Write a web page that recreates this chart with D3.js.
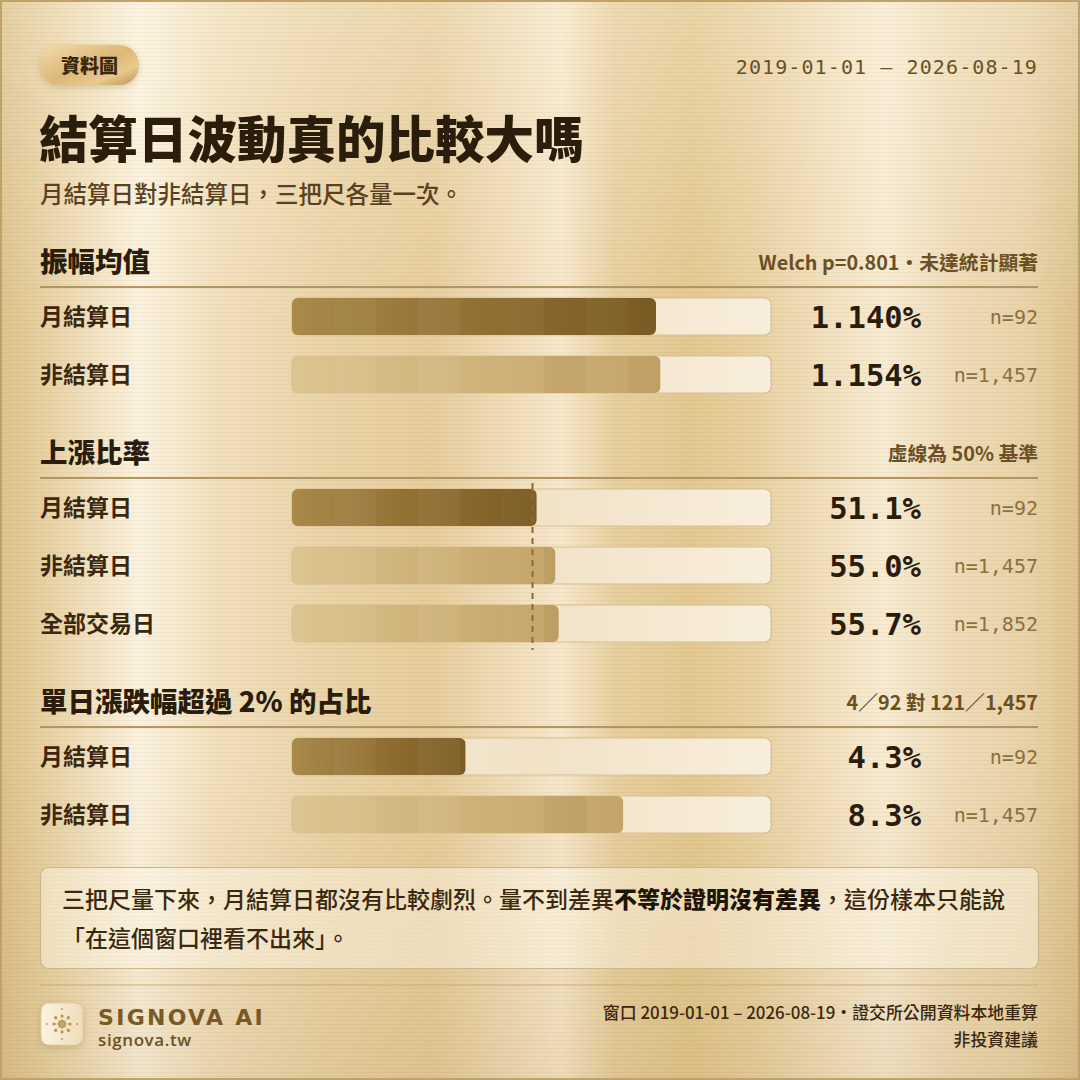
<!DOCTYPE html>
<html><head><meta charset="utf-8">
<script src="https://cdn.jsdelivr.net/npm/d3@7"></script>
<style>
html,body{margin:0;padding:0;background:#e8d3a6;}
svg{display:block;}
</style></head>
<body>
<svg id="c" width="1080" height="1080"></svg>
<script>
// ---- data ----
const sectionTitles = ["振幅均值", "上漲比率", "單日漲跌幅超過 2% 的占比"];
const sectionNotes = ["Welch p=0.801・未達統計顯著", "虛線為 50% 基準", "4／92 對 121／1,457"];
const sectionMax = [1.5, 100, 12];
const amplitudeLabels = ["月結算日", "非結算日"];
const amplitudeValues = [1.140, 1.154];
const amplitudeText = ["1.140%", "1.154%"];
const amplitudeN = ["n=92", "n=1,457"];
const upLabels = ["月結算日", "非結算日", "全部交易日"];
const upValues = [51.1, 55.0, 55.7];
const upText = ["51.1%", "55.0%", "55.7%"];
const upN = ["n=92", "n=1,457", "n=1,852"];
const upReference = 50;
const bigMoveLabels = ["月結算日", "非結算日"];
const bigMoveValues = [4.35, 8.30];
const bigMoveText = ["4.3%", "8.3%"];
const bigMoveN = ["n=92", "n=1,457"];

const sections = [
  {labels: amplitudeLabels, values: amplitudeValues, text: amplitudeText, n: amplitudeN},
  {labels: upLabels, values: upValues, text: upText, n: upN, ref: upReference},
  {labels: bigMoveLabels, values: bigMoveValues, text: bigMoveText, n: bigMoveN}
];

// ---- layout ----
const W = 1080, H = 1080, L = 40, R = 1038;
const svg = d3.select("#c");
const defs = svg.append("defs");
const CJK = "'Noto Sans CJK TC','Noto Sans CJK SC',sans-serif";
const MONO = "'DejaVu Sans Mono','Liberation Mono',monospace";

// background gradients
const bg = defs.append("linearGradient").attr("id","bg").attr("x1",0).attr("x2",1).attr("y1",0).attr("y2",0);
[[0,"#dcc18b"],[0.05,"#e9d4a8"],[0.13,"#fbf2df"],[0.2,"#f1e0bd"],[0.3,"#ead4a8"],[0.4,"#e6cd9c"],[0.47,"#efdcb8"],[0.52,"#f6e8cc"],[0.57,"#e7cf9f"],[0.64,"#e2c890"],[0.7,"#e8d1a2"],[0.78,"#f3e3c4"],[0.82,"#f7ebd3"],[0.88,"#eedcb8"],[0.95,"#e8d3a8"],[1,"#dcc28e"]]
  .forEach(([o,c])=>bg.append("stop").attr("offset",o).attr("stop-color",c));
const vg = defs.append("linearGradient").attr("id","vg").attr("x1",0).attr("x2",0).attr("y1",0).attr("y2",1);
[[0,"rgba(255,250,235,0.25)"],[0.3,"rgba(255,250,235,0.0)"],[0.7,"rgba(160,120,50,0.0)"],[1,"rgba(160,120,50,0.12)"]]
  .forEach(([o,c])=>vg.append("stop").attr("offset",o).attr("stop-color",c));
const lines = defs.append("pattern").attr("id","lines").attr("width",8).attr("height",4).attr("patternUnits","userSpaceOnUse");
lines.append("rect").attr("width",8).attr("height",1).attr("fill","rgba(150,115,55,0.07)");

svg.append("rect").attr("width",W).attr("height",H).attr("fill","url(#bg)");
svg.append("rect").attr("width",W).attr("height",H).attr("fill","url(#vg)");
svg.append("rect").attr("width",W).attr("height",H).attr("fill","url(#lines)");
svg.append("rect").attr("x",1).attr("y",1).attr("width",W-2).attr("height",H-2).attr("fill","none").attr("stroke","#bfa26a").attr("stroke-width",2);

// badge
const badgeG = defs.append("linearGradient").attr("id","badge").attr("x1",0).attr("x2",1).attr("y1",0).attr("y2",1);
[[0,"#f3dcaa"],[0.5,"#dcb878"],[0.75,"#e8c98e"],[1,"#b8904f"]].forEach(([o,c])=>badgeG.append("stop").attr("offset",o).attr("stop-color",c));
const shadow = defs.append("filter").attr("id","sh").attr("x",-0.2).attr("y",-0.3).attr("width",1.4).attr("height",1.8);
shadow.append("feDropShadow").attr("dx",0).attr("dy",2).attr("stdDeviation",3).attr("flood-color","#8a6a30").attr("flood-opacity",0.3);
svg.append("rect").attr("x",40).attr("y",45).attr("width",99).attr("height",40).attr("rx",20)
  .attr("fill","url(#badge)").attr("filter","url(#sh)");
svg.append("text").attr("x",89.5).attr("y",72.5).attr("text-anchor","middle")
  .attr("font-family",CJK).attr("font-weight",900).attr("font-size",19).attr("fill","#3a2810").text("資料圖");

svg.append("text").attr("x",R).attr("y",74).attr("text-anchor","end")
  .attr("font-family",MONO).attr("font-size",20).attr("letter-spacing",1.1).attr("fill","#6b5024")
  .text("2019-01-01 – 2026-08-19");

svg.append("text").attr("x",L-1).attr("y",158).attr("font-family",CJK).attr("font-weight",900)
  .attr("font-size",49.5).attr("fill","#2a1d0b").text("結算日波動真的比較大嗎");
svg.append("text").attr("x",L).attr("y",203).attr("font-family",CJK).attr("font-weight",500)
  .attr("font-size",23.5).attr("fill","#5a4220").text("月結算日對非結算日，三把尺各量一次。");

// bar gradients
function grad(id, stops){
  const g = defs.append("linearGradient").attr("id",id).attr("x1",0).attr("x2",1).attr("y1",0).attr("y2",0);
  stops.forEach(([o,c])=>g.append("stop").attr("offset",o).attr("stop-color",c));
}
grad("dark", [[0,"#a98a4b"],[0.5,"#937033"],[1,"#7b5c23"]]);
grad("light", [[0,"#ddc591"],[0.5,"#cfb37a"],[1,"#c3a366"]]);
grad("track", [[0,"#f6ebd6"],[0.5,"#f1e2c6"],[1,"#f8eedc"]]);
const stripeShades = [0.00, 0.05, 0.02, 0.07, 0.0, 0.04, 0.08, 0.03, 0.06, 0.01, 0.05, 0.02];

const x = d3.scaleLinear().range([292, 771]);
const sectionTops = [272, 463, 712];
const barH = 37, rowGap = 58;

sections.forEach((s, si) => {
  const top = sectionTops[si];
  x.domain([0, sectionMax[si]]);
  const g = svg.append("g");
  g.append("text").attr("x",L).attr("y",top).attr("font-family",CJK).attr("font-weight",900)
    .attr("font-size",27.5).attr("fill","#2a1d0b").text(sectionTitles[si]);
  g.append("text").attr("x",R).attr("y",top-2).attr("text-anchor","end").attr("font-family",CJK)
    .attr("font-weight",700).attr("font-size",19.8).attr("fill","#6b5024").text(sectionNotes[si]);
  g.append("line").attr("x1",L).attr("x2",R).attr("y1",top+15).attr("y2",top+15)
    .attr("stroke","#b39463").attr("stroke-width",2);

  const y0 = top + 26;
  const rows = g.selectAll("g.row").data(s.values).join("g").attr("class","row")
    .attr("transform",(d,i)=>`translate(0,${y0 + i*rowGap})`);
  rows.append("text").attr("x",L).attr("y",barH/2+8).attr("font-family",CJK).attr("font-weight",700)
    .attr("font-size",23).attr("fill","#3a2810").text((d,i)=>s.labels[i]);
  rows.append("rect").attr("x",x(0)).attr("y",0).attr("width",x.range()[1]-x(0)).attr("height",barH).attr("rx",6)
    .attr("fill","url(#track)").attr("stroke","#d5bf94").attr("stroke-width",1.2);
  rows.each(function(d,i){
    const r = d3.select(this);
    const w = x(d) - x(0);
    const cid = `clip${si}_${i}`;
    defs.append("clipPath").attr("id",cid).append("rect").attr("x",x(0)).attr("y",0).attr("width",w).attr("height",barH).attr("rx",6);
    const bg2 = r.append("g").attr("clip-path",`url(#${cid})`);
    bg2.append("rect").attr("x",x(0)).attr("y",0).attr("width",w).attr("height",barH)
      .attr("fill", i===0 ? "url(#dark)" : "url(#light)");
    const n = Math.ceil(w/42);
    for(let k=0;k<n;k++){
      bg2.append("rect").attr("x",x(0)+k*42).attr("y",0).attr("width",42).attr("height",barH)
        .attr("fill", k%2 ? "#fff" : "#5a3e10").attr("opacity", stripeShades[k%stripeShades.length]*0.6);
    }
  });
  rows.append("text").attr("x",921).attr("y",barH/2+11).attr("text-anchor","end").attr("font-family",MONO)
    .attr("font-weight",700).attr("font-size",30.5).attr("fill","#2a1d0b").text((d,i)=>s.text[i]);
  rows.append("text").attr("x",R).attr("y",barH/2+7).attr("text-anchor","end").attr("font-family",MONO)
    .attr("font-size",20).attr("fill","#8a7045").text((d,i)=>s.n[i]);

  if (s.ref !== undefined) {
    g.append("line").attr("x1",x(s.ref)+1).attr("x2",x(s.ref)+1).attr("y1",top+20).attr("y2",y0+(s.values.length-1)*rowGap+barH+8)
      .attr("stroke","#8a6a34").attr("stroke-width",2).attr("stroke-dasharray","6,5");
  }
});

// callout
svg.append("rect").attr("x",40.5).attr("y",867.5).attr("width",998).attr("height",101).attr("rx",8)
  .attr("fill","rgba(255,248,232,0.45)").attr("stroke","#cdb58a").attr("stroke-width",1.2);
const t1 = svg.append("text").attr("x",62).attr("y",908).attr("font-family",CJK).attr("font-size",23)
  .attr("font-weight",500).attr("fill","#3a2810");
t1.append("tspan").text("三把尺量下來，月結算日都沒有比較劇烈。量不到差異");
t1.append("tspan").attr("font-weight",900).attr("fill","#1f1507").text("不等於證明沒有差異");
t1.append("tspan").text("，這份樣本只能說");
svg.append("text").attr("x",62).attr("y",947).attr("font-family",CJK).attr("font-size",23)
  .attr("font-weight",500).attr("fill","#3a2810").text("「在這個窗口裡看不出來」。");

// footer
svg.append("line").attr("x1",L).attr("x2",R).attr("y1",985).attr("y2",985).attr("stroke","#c9ad78").attr("stroke-width",1.2);
grad("logo", [[0,"#fbf3e2"],[1,"#efdcb8"]]);
svg.append("rect").attr("x",41).attr("y",1003).attr("width",42).attr("height",42).attr("rx",8)
  .attr("fill","url(#logo)").attr("stroke","#e2cba0").attr("filter","url(#sh)");
const lc = [62, 1024];
const logo = svg.append("g").attr("transform",`translate(${lc[0]},${lc[1]})`);
d3.range(8).forEach(k=>{
  const a = k*Math.PI/4 - Math.PI/2;
  logo.append("line").attr("x1",0).attr("y1",0).attr("x2",Math.cos(a)*9).attr("y2",Math.sin(a)*9)
    .attr("stroke","#d2b27a").attr("stroke-width",0.8);
  logo.append("circle").attr("cx",Math.cos(a)*(k%2?9:8)).attr("cy",Math.sin(a)*(k%2?9:8)).attr("r",1.6).attr("fill","#b8934f");
  if(k%2===0) logo.append("circle").attr("cx",Math.cos(a)*15).attr("cy",Math.sin(a)*15).attr("r",1.1).attr("fill","#c4a066");
});
logo.append("circle").attr("r",3.5).attr("fill","#c9a865").attr("stroke","#a98848");
svg.append("text").attr("x",98).attr("y",1025).attr("font-family","'DejaVu Sans',sans-serif").attr("font-weight",700)
  .attr("font-size",22).attr("letter-spacing",2.3).attr("fill","#7a5a24").text("SIGNOVA AI");
svg.append("text").attr("x",98).attr("y",1046).attr("font-family","'Open Sans','DejaVu Sans',sans-serif").attr("font-weight",600)
  .attr("font-size",17).attr("letter-spacing",0.6).attr("fill","#6b5024").text("signova.tw");
svg.append("text").attr("x",R).attr("y",1019).attr("text-anchor","end").attr("font-family",CJK).attr("font-weight",500)
  .attr("font-size",16.9).attr("fill","#3a2810").text("窗口 2019-01-01 – 2026-08-19・證交所公開資料本地重算");
svg.append("text").attr("x",R).attr("y",1046).attr("text-anchor","end").attr("font-family",CJK).attr("font-weight",500)
  .attr("font-size",16.9).attr("fill","#3a2810").text("非投資建議");
</script>
</body></html>
